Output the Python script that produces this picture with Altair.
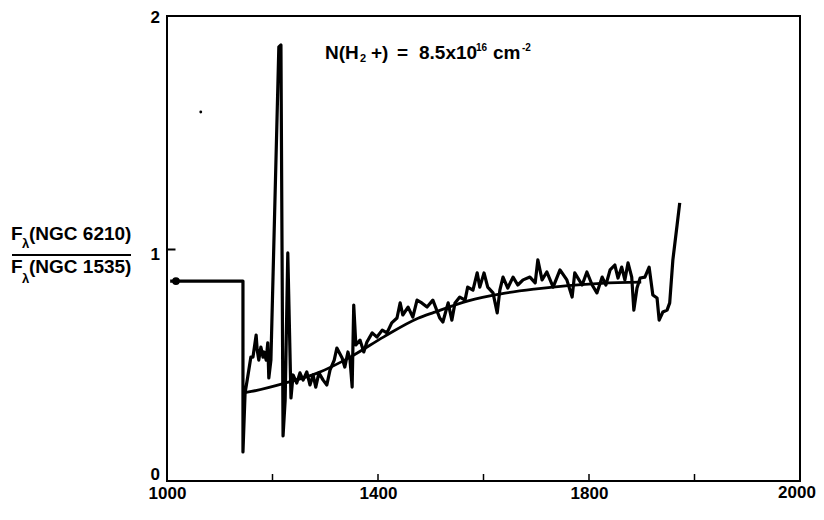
import altair as alt
import pandas as pd

# ---- data ----
obs_wl = [1006, 1144, 1144, 1148, 1153, 1159, 1163, 1169, 1171, 1174, 1178, 1182, 1184, 1188, 1191, 1193, 1197,
          1212, 1216, 1220, 1224, 1229, 1235, 1239, 1246, 1252, 1258, 1265, 1271, 1277, 1282, 1288, 1296, 1303,
          1309, 1317, 1322, 1332, 1337, 1343, 1347, 1351, 1354, 1358, 1366, 1373, 1379, 1389, 1398, 1408, 1417,
          1426, 1436, 1442, 1447, 1457, 1466, 1474, 1483, 1493, 1504, 1517, 1523, 1533, 1540, 1546, 1555, 1565,
          1570, 1580, 1588, 1593, 1601, 1608, 1618, 1626, 1631, 1637, 1646, 1656, 1665, 1675, 1688, 1698, 1703,
          1711, 1720, 1732, 1745, 1758, 1768, 1773, 1787, 1796, 1806, 1815, 1825, 1832, 1840, 1849, 1855, 1862,
          1868, 1874, 1881, 1885, 1891, 1897, 1906, 1914, 1921, 1929, 1933, 1940, 1948, 1953, 1959, 1967, 1972]
obs_ratio = [0.860, 0.860, 0.125, 0.378, 0.447, 0.533, 0.533, 0.628, 0.563, 0.520, 0.576, 0.533, 0.555, 0.520,
             0.594, 0.443, 0.520, 1.867, 1.875, 0.194, 0.348, 0.981, 0.357, 0.456, 0.421, 0.465, 0.434, 0.469,
             0.413, 0.456, 0.404, 0.465, 0.434, 0.413, 0.477, 0.520, 0.572, 0.529, 0.490, 0.555, 0.520, 0.404,
             0.757, 0.585, 0.606, 0.555, 0.598, 0.637, 0.619, 0.649, 0.637, 0.680, 0.701, 0.766, 0.714, 0.748,
             0.705, 0.778, 0.766, 0.748, 0.778, 0.701, 0.684, 0.766, 0.692, 0.766, 0.791, 0.778, 0.834, 0.821,
             0.895, 0.834, 0.895, 0.834, 0.809, 0.723, 0.821, 0.877, 0.830, 0.877, 0.843, 0.865, 0.877, 0.852,
             0.951, 0.865, 0.899, 0.834, 0.908, 0.865, 0.791, 0.895, 0.843, 0.899, 0.843, 0.809, 0.877, 0.843,
             0.908, 0.929, 0.873, 0.920, 0.865, 0.938, 0.877, 0.735, 0.830, 0.873, 0.877, 0.920, 0.800, 0.787,
             0.692, 0.727, 0.735, 0.766, 0.951, 1.101, 1.196]

fit_wl = [1148, 1160, 1222, 1286, 1349, 1411, 1476, 1506, 1571, 1633, 1696, 1760, 1823, 1899]
fit_ratio = [0.38, 0.385, 0.42, 0.465, 0.535, 0.62, 0.70, 0.725, 0.775, 0.805, 0.825, 0.84, 0.85, 0.855]

marker_wl = [1017]
marker_ratio = [0.86]
speck_wl = [1064]
speck_ratio = [1.587]

x_label_values = [1000, 1400, 1800]
x_last_label = "2000"
x_inner_ticks = [1200, 1400, 1600, 1800, 2000]
y_labels = ["0", "1", "2"]
y_label_pos = [475, 255, 18]     # page pixel rows where the printed labels sit
y_inner_ticks = [1]

FONT = "Liberation Sans"
W, H = 633, 465
LEFT, TOP = 167, 16   # page position of plot origin

obs = pd.DataFrame({"wl": obs_wl, "ratio": obs_ratio, "i": list(range(len(obs_wl)))})
fit = pd.DataFrame({"wl": fit_wl, "ratio": fit_ratio})

xs = alt.Scale(domain=[1000, 2200], nice=False, zero=False)
ys = alt.Scale(domain=[0, 2], nice=False, zero=False)

x_axis = alt.Axis(values=x_label_values, format="d", ticks=False, domain=False,
                  grid=False, labelFont=FONT, labelFontSize=17, labelFontWeight="bold",
                  labelColor="black", labelPadding=4, labelFlush=False, title=None)
# an axis pulled 8px inside the frame gives an inward-pointing tick at y = 1
y_axis = alt.Axis(values=y_inner_ticks, labels=False, domain=False, grid=False, ticks=True,
                  tickSize=8, tickWidth=2, tickColor="black", offset=-8, title=None)


def X(field="wl:Q"):
    return alt.X(field, scale=xs, axis=x_axis, title=None)


def Y(field="ratio:Q"):
    return alt.Y(field, scale=ys, axis=y_axis, title=None)


obs_line = alt.Chart(obs).mark_line(color="black", strokeWidth=3.2, strokeJoin="round").encode(
    x=X(), y=Y(), order="i:Q",
)

fit_line = alt.Chart(fit).mark_line(color="black", strokeWidth=2.8, interpolate="monotone").encode(
    x=X(), y=Y(),
)

marker = alt.Chart(pd.DataFrame({"wl": marker_wl, "ratio": marker_ratio})).mark_point(
    filled=True, color="black", size=60, opacity=1, shape="circle"
).encode(x=X(), y=Y())

speck = alt.Chart(pd.DataFrame({"wl": speck_wl, "ratio": speck_ratio})).mark_point(
    filled=True, color="black", size=8, opacity=1
).encode(x=X(), y=Y())

xticks = alt.Chart(pd.DataFrame({"wl": x_inner_ticks})).mark_rule(color="black", strokeWidth=1.5).encode(
    x=X(), y=alt.value(H), y2=alt.value(H - 7)
)

ylab = alt.Chart(pd.DataFrame({"t": y_labels, "py": [p - TOP for p in y_label_pos]})).mark_text(
    align="right", baseline="middle", font=FONT, fontSize=17, fontWeight="bold", color="black"
).encode(x=alt.value(160 - LEFT), y=alt.Y("py:Q", scale=None, axis=None), text="t:N")


def txt(s, px, py, size=19, weight="bold", align="left", baseline="alphabetic"):
    return alt.Chart(pd.DataFrame({"t": [s]})).mark_text(
        align=align, baseline=baseline, font=FONT, fontSize=size, fontWeight=weight, color="black"
    ).encode(x=alt.value(px - LEFT), y=alt.value(py - TOP), text="t:N")


last_label = txt(x_last_label, 797, H + TOP + 4, 17, align="center", baseline="top")

ytitle = [
    txt("F", 11, 240), txt("λ", 22, 248, 13), txt("(NGC 6210)", 29, 240),
    txt("F", 11, 273), txt("λ", 22, 283, 13), txt("(NGC 1535)", 29, 273),
]
frac_bar = alt.Chart(pd.DataFrame({"a": [0]})).mark_rule(color="black", strokeWidth=2).encode(
    x=alt.value(12 - LEFT), x2=alt.value(131 - LEFT), y=alt.value(255 - TOP)
)

annot = [
    txt("N(H", 325, 59), txt("2", 360, 62, 11), txt("+)", 371, 59), txt("=", 397, 59),
    txt("8.5x10", 419, 59), txt("16", 476, 51, 10), txt("cm", 493, 59), txt("-2", 522, 51, 10),
]

chart = alt.layer(
    obs_line, fit_line, marker, speck, xticks, frac_bar, last_label, ylab, *ytitle, *annot
).properties(
    width=W, height=H,
    autosize=alt.AutoSizeParams(type="none"),
    padding={"left": LEFT - 8, "top": TOP - 8, "right": 824 - 16 - (LEFT - 8) - W, "bottom": 31},
).configure_view(stroke="black", strokeWidth=2)

chart.save("out.html", embed_options={"renderer": "svg", "actions": False})
